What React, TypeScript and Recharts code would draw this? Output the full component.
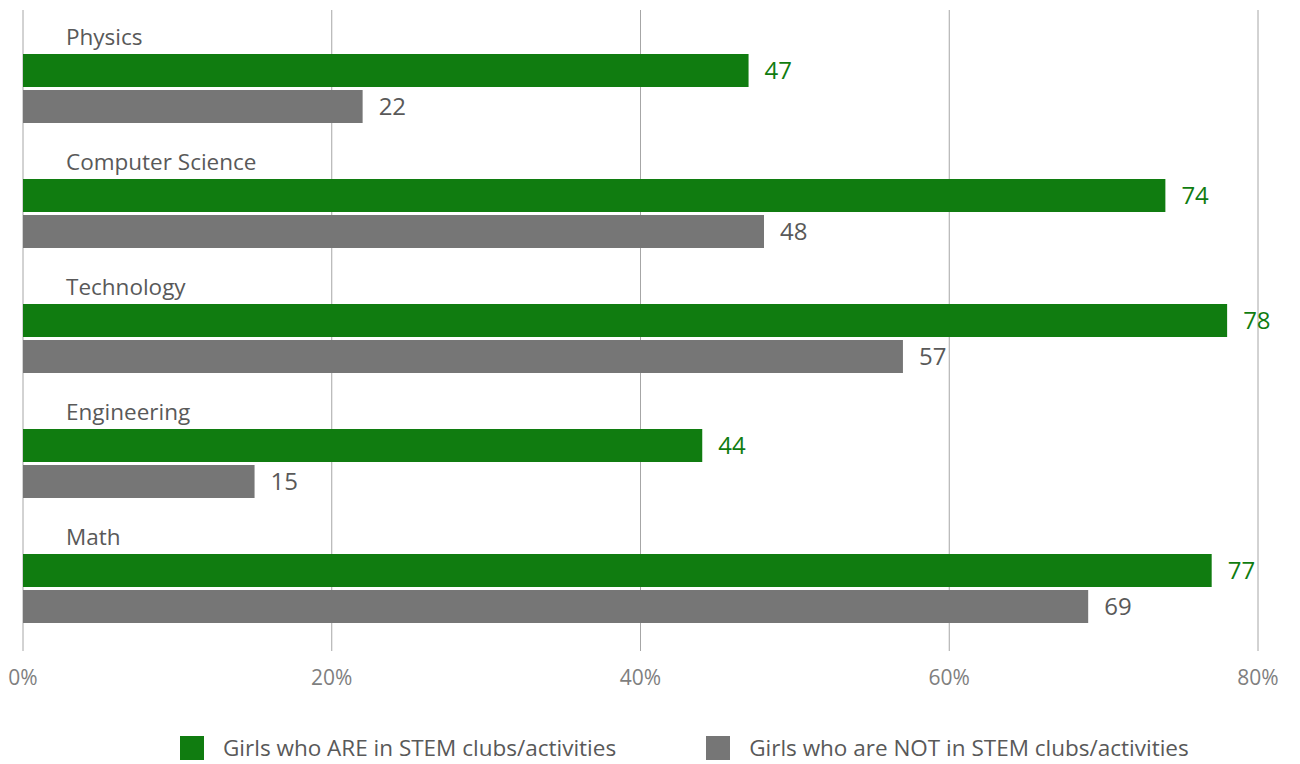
import React from "react";
import {
  BarChart,
  Bar,
  XAxis,
  YAxis,
  CartesianGrid,
  Legend,
  LabelList,
} from "recharts";

const categories = ["Physics", "Computer Science", "Technology", "Engineering", "Math"];
const inStem = [47, 74, 78, 44, 77];
const notInStem = [22, 48, 57, 15, 69];
const xTicks = [0, 20, 40, 60, 80];

const seriesNames = [
  "Girls who ARE in STEM clubs/activities",
  "Girls who are NOT in STEM clubs/activities",
];

const GREEN = "#107c10";
const GREY = "#767676";
const FONT = "'Open Sans', 'Noto Sans', sans-serif";

const data = categories.map((c, i) => ({
  category: c,
  inStem: inStem[i],
  notInStem: notInStem[i],
}));

function CategoryLabel(props: any) {
  const { x, y, value } = props;
  return (
    <text
      x={x + 43}
      y={y - 18}
      fill="#595959"
      fontSize={22.5}
      fontFamily={FONT}
      dominantBaseline="central"
    >
      {value}
    </text>
  );
}

function LegendContent() {
  const colors = [GREEN, GREY];
  return (
    <div
      style={{
        display: "flex",
        gap: 90,
        paddingLeft: 157,
        paddingTop: 18,
        height: 50,
        boxSizing: "border-box",
        alignItems: "flex-start",
        fontFamily: FONT,
        fontSize: 22.5,
        color: "#595959",
      }}
    >
      {seriesNames.map((name, i) => (
        <div key={name} style={{ display: "flex", alignItems: "center" }}>
          <span
            style={{
              width: 24,
              height: 24,
              background: colors[i],
              display: "inline-block",
              marginRight: 19,
            }}
          />
          <span>{name}</span>
        </div>
      ))}
    </div>
  );
}

export default function App() {
  return (
    <div style={{ position: "absolute", left: 0, top: 0, background: "#fff" }}>
      <BarChart
        width={1300}
        height={764}
        data={data}
        layout="vertical"
        margin={{ top: 10, right: 42, bottom: 0, left: 23 }}
        barGap={3}
        barSize={33}
      >
        <CartesianGrid horizontal={false} stroke="#a6a6a6" strokeWidth={1} />
        <XAxis
          type="number"
          domain={[0, 80]}
          ticks={xTicks}
          tickFormatter={(v) => `${v}%`}
          axisLine={false}
          tickLine={false}
          tickMargin={13}
          height={63}
          tick={{ fill: "#7f7f7f", fontSize: 21, fontFamily: FONT }}
        />
        <YAxis
          type="category"
          dataKey="category"
          hide
          padding={{ top: 16, bottom: 0 }}
        />
        <Legend verticalAlign="bottom" height={50} content={<LegendContent />} />
        <Bar dataKey="inStem" fill={GREEN} isAnimationActive={false}>
          <LabelList dataKey="category" content={<CategoryLabel />} />
          <LabelList
            dataKey="inStem"
            position="right"
            offset={16}
            fill={GREEN}
            fontSize={24}
            fontFamily={FONT}
          />
        </Bar>
        <Bar dataKey="notInStem" fill={GREY} isAnimationActive={false}>
          <LabelList
            dataKey="notInStem"
            position="right"
            offset={16}
            fill="#595959"
            fontSize={24}
            fontFamily={FONT}
          />
        </Bar>
      </BarChart>
    </div>
  );
}
